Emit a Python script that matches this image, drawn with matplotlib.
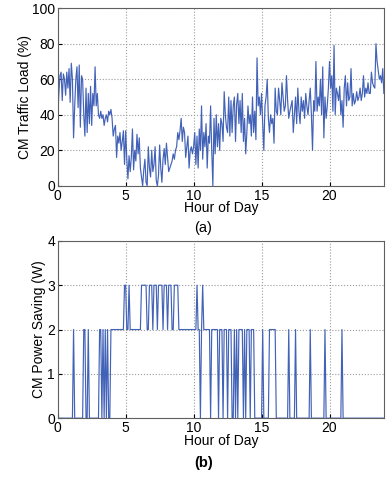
import numpy as np
import matplotlib.pyplot as plt

plt.rcParams['font.family'] = ['Liberation Sans', 'DejaVu Sans']

# traffic load (%), one value every 5 minutes, 12 per hour
load_h00 = [37, 52, 62, 64, 48, 63, 60, 51, 64, 55, 66, 47]
load_h01 = [69, 60, 27, 45, 60, 67, 44, 68, 33, 62, 60, 40]
load_h02 = [28, 55, 30, 52, 35, 56, 34, 52, 45, 67, 45, 52]
load_h03 = [40, 38, 42, 38, 40, 34, 38, 40, 36, 42, 40, 43]
load_h04 = [38, 28, 32, 34, 16, 28, 24, 30, 20, 25, 31, 12]
load_h05 = [31, 15, 4, 17, 8, 16, 32, 9, 20, 14, 29, 18]
load_h06 = [27, 10, 5, 0, 9, 15, 2, 0, 22, 10, 5, 20]
load_h07 = [8, 12, 22, 3, 0, 6, 23, 10, 2, 15, 21, 12]
load_h08 = [24, 16, 8, 10, 12, 14, 18, 15, 20, 22, 30, 26]
load_h09 = [31, 38, 25, 33, 30, 16, 22, 28, 10, 20, 22, 18]
load_h10 = [22, 30, 12, 28, 10, 32, 20, 45, 15, 30, 22, 35]
load_h11 = [10, 28, 24, 45, 20, 0, 38, 18, 40, 22, 35, 20]
load_h12 = [38, 35, 25, 53, 40, 33, 30, 50, 28, 48, 30, 45]
load_h13 = [50, 25, 46, 52, 35, 48, 30, 52, 25, 38, 18, 30]
load_h14 = [45, 35, 40, 28, 50, 30, 42, 26, 72, 45, 50, 40]
load_h15 = [52, 35, 20, 45, 50, 60, 38, 30, 40, 35, 38, 24]
load_h16 = [55, 42, 40, 55, 48, 40, 58, 50, 42, 45, 62, 48]
load_h17 = [38, 42, 45, 48, 30, 40, 50, 35, 55, 42, 35, 50]
load_h18 = [42, 48, 38, 52, 45, 40, 48, 55, 40, 20, 48, 42]
load_h19 = [70, 42, 50, 45, 60, 40, 67, 27, 50, 38, 45, 55]
load_h20 = [70, 55, 62, 42, 79, 40, 55, 52, 48, 56, 40, 48]
load_h21 = [33, 55, 62, 45, 58, 48, 50, 66, 45, 52, 46, 48]
load_h22 = [53, 48, 50, 55, 48, 52, 62, 50, 55, 52, 58, 52]
load_h23 = [52, 64, 58, 56, 55, 80, 70, 65, 60, 62, 58, 66]
load_end = [52]

# power saving (W) as runs of (level, number of 5-minute samples)
saving_runs = [(0, 14), (2, 1), (0, 8), (2, 2), (0, 2), (2, 1), (0, 9),
               (2, 2), (0, 1), (2, 1), (0, 1), (2, 1), (0, 1), (2, 1), (0, 2),
               (2, 12), (3, 2), (2, 2), (3, 1), (2, 10), (3, 5), (2, 2),
               (3, 3), (2, 1), (3, 3), (2, 1), (3, 4), (2, 1), (3, 3), (2, 1),
               (3, 3), (2, 2), (3, 4), (2, 16), (3, 1), (2, 2), (0, 1), (2, 1),
               (3, 1), (2, 6), (0, 1), (2, 6), (0, 1), (2, 3), (0, 1), (2, 3),
               (0, 1), (2, 3), (0, 2), (2, 1), (0, 1), (2, 1), (0, 1), (2, 4),
               (0, 1), (2, 1), (0, 1), (2, 3), (0, 1), (2, 3), (0, 7), (2, 1),
               (0, 5), (2, 6), (0, 11), (2, 1), (0, 5), (2, 1), (0, 12), (2, 1),
               (0, 12), (2, 1), (0, 14), (2, 1), (0, 37)]

load = np.array(load_h00 + load_h01 + load_h02 + load_h03 + load_h04 + load_h05 +
                load_h06 + load_h07 + load_h08 + load_h09 + load_h10 + load_h11 +
                load_h12 + load_h13 + load_h14 + load_h15 + load_h16 + load_h17 +
                load_h18 + load_h19 + load_h20 + load_h21 + load_h22 + load_h23 +
                load_end, dtype=float)
saving = np.concatenate([[lvl] * n for lvl, n in saving_runs]).astype(float)
hours = np.arange(len(load)) / 12.0
hours_s = np.arange(len(saving)) / 12.0

line_color = '#4262b8'
frame_color = '#606060'

fig = plt.figure(figsize=(3.86, 4.79), dpi=100)
ax1 = fig.add_axes([0.1495, 0.612, 0.845, 0.371])
ax2 = fig.add_axes([0.1495, 0.127, 0.845, 0.370])


def style(ax):
    ax.set_xlim(0, 24)
    ax.set_xticks([0, 5, 10, 15, 20])
    ax.grid(True, linestyle=':', color='#9a9a9a', linewidth=0.8)
    ax.tick_params(direction='in', length=3, labelsize=10, colors='black')
    ax.tick_params(axis='x', pad=2)
    ax.tick_params(axis='y', pad=2)
    for sp in ax.spines.values():
        sp.set_color(frame_color)
        sp.set_linewidth(0.8)
    ax.set_xlabel('Hour of Day', fontsize=10, labelpad=-1)


ax1.plot(hours, load, color=line_color, linewidth=0.85)
ax1.set_ylim(0, 100)
ax1.set_yticks([0, 20, 40, 60, 80, 100])
style(ax1)
ax1.set_ylabel('CM Traffic Load (%)', fontsize=10, labelpad=0)
fig.text(0.527, 0.524, '(a)', ha='center', va='center', fontsize=10.5)

ax2.plot(hours_s, saving, color=line_color, linewidth=0.85)
ax2.set_ylim(0, 4)
ax2.set_yticks([0, 1, 2, 3, 4])
style(ax2)
ax2.set_ylabel('CM Power Saving (W)', fontsize=10, labelpad=1)
fig.text(0.527, 0.033, '(b)', ha='center', va='center', fontsize=10.5,
         fontweight='bold')

fig.savefig('out.png', dpi=100)
